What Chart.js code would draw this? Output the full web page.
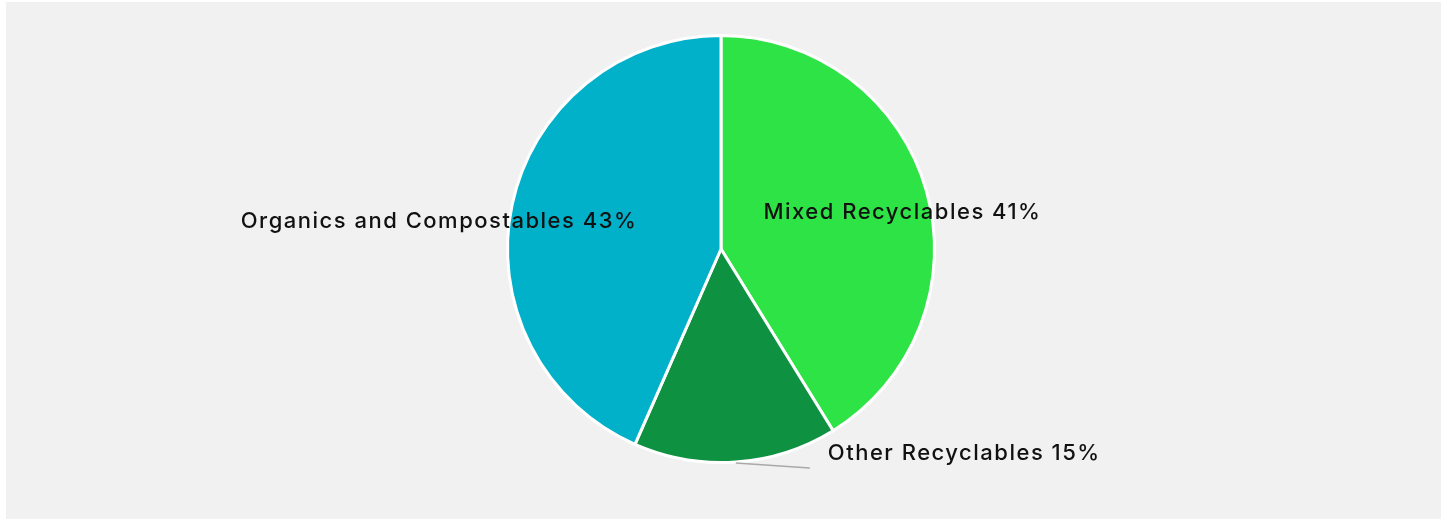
<!DOCTYPE html>
<html>
<head>
<meta charset="utf-8">
<title>Waste composition</title>
<script src="https://cdn.jsdelivr.net/npm/chart.js@4/dist/chart.umd.min.js"></script>
<style>
  html, body { margin: 0; padding: 0; background: #ffffff; }
  #wrap {
    position: absolute; left: 6px; top: 2px;
    width: 1435px; height: 517px;
    background: #f1f1f1;
  }
  canvas { display: block; }
</style>
</head>
<body>
<div id="wrap"><canvas id="chart"></canvas></div>
<script>
// Share of the collected stream by category (percent)
const categories = ['Mixed Recyclables', 'Other Recyclables', 'Organics and Compostables'];
const shares = [41.2, 15.4, 43.4];
const sliceColors = ['#2ee346', '#0f9142', '#01b1ca'];

const FONT = '500 22px Inter, "Noto Sans", sans-serif';
const LETTER_SPACING = '1.5px';

// How each slice's label sits relative to its slice:
// inside labels anchor at a fraction of the radius on the slice's mid-angle,
// outside labels hang off a short leader line from the rim.
const labelLayout = [
  { mode: 'inside', r: 0.635, dx: -88, align: 'left' },
  { mode: 'outside', lineDx: 74, lineDy: 5, gap: 18, textDy: -15 },
  { mode: 'inside', r: 0.635, dx: 49, align: 'right' }
];

const sliceLabels = {
  id: 'sliceLabels',
  afterDatasetsDraw(chart) {
    const ctx = chart.ctx;
    const meta = chart.getDatasetMeta(0);
    const values = chart.data.datasets[0].data;
    ctx.save();
    ctx.font = FONT;
    if ('letterSpacing' in ctx) ctx.letterSpacing = LETTER_SPACING;
    ctx.fillStyle = '#111111';
    ctx.textBaseline = 'middle';
    meta.data.forEach((arc, i) => {
      const p = arc.getProps(['x', 'y', 'startAngle', 'endAngle', 'outerRadius'], true);
      const mid = (p.startAngle + p.endAngle) / 2;
      const text = chart.data.labels[i] + ' ' + Math.round(values[i]) + '%';
      const L = labelLayout[i];
      if (L.mode === 'inside') {
        const ax = p.x + Math.cos(mid) * p.outerRadius * L.r;
        const ay = p.y + Math.sin(mid) * p.outerRadius * L.r;
        ctx.textAlign = L.align;
        ctx.fillText(text, ax + L.dx, ay);
      } else {
        const sx = p.x + Math.cos(mid) * (p.outerRadius + 1);
        const sy = p.y + Math.sin(mid) * (p.outerRadius + 1);
        const ex = sx + L.lineDx;
        const ey = sy + L.lineDy;
        ctx.strokeStyle = '#a9a9a9';
        ctx.lineWidth = 1.5;
        ctx.beginPath();
        ctx.moveTo(sx, sy);
        ctx.lineTo(ex, ey);
        ctx.stroke();
        ctx.textAlign = 'left';
        ctx.fillText(text, ex + L.gap, ey + L.textDy);
      }
    });
    ctx.restore();
  }
};

new Chart(document.getElementById('chart'), {
  type: 'pie',
  data: {
    labels: categories,
    datasets: [{
      data: shares,
      backgroundColor: sliceColors,
      borderColor: '#ffffff',
      borderWidth: 3
    }]
  },
  options: {
    responsive: true,
    maintainAspectRatio: false,
    animation: false,
    layout: { padding: { top: 32, bottom: 55, left: 0, right: 5 } },
    plugins: {
      legend: { display: false },
      tooltip: { enabled: false }
    }
  },
  plugins: [sliceLabels]
});
</script>
</body>
</html>
